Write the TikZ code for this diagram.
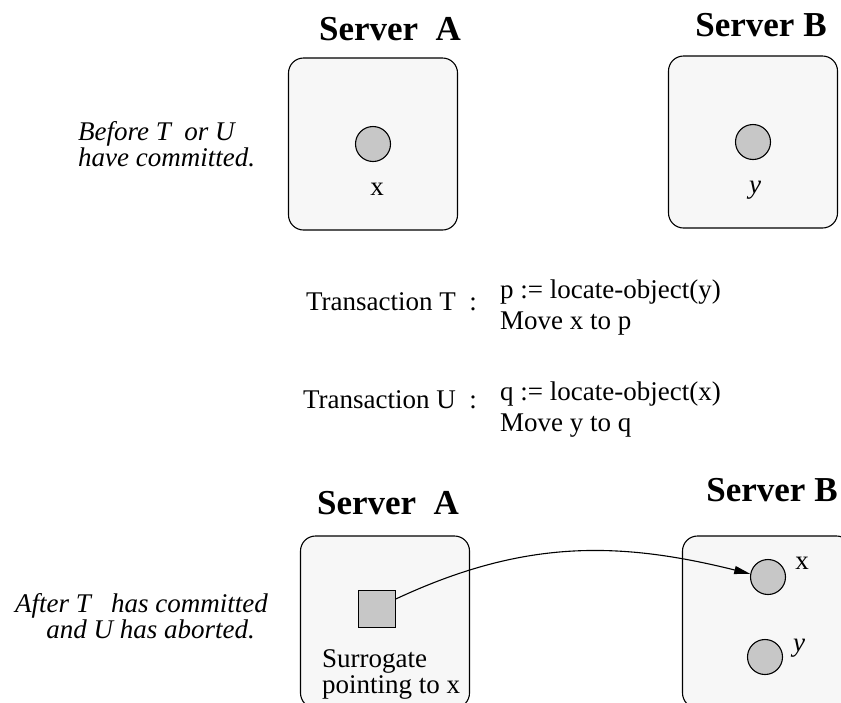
\documentclass[tikz,border=0pt]{standalone}
\usepackage{fontspec}
\setmainfont{Liberation Serif}
\usetikzlibrary{positioning,arrows.meta}
\definecolor{boxFill}{gray}{0.97}
\definecolor{objFill}{gray}{0.78}

\begin{document}
\begin{tikzpicture}[
	x=1pt, y=1pt,
	node distance = 0pt,
	server/.style={draw, rounded corners=15pt, minimum width=169pt, minimum height=172pt,
		line width=1.1pt, fill=boxFill},
	obj/.style={draw, circle, minimum size=35pt, inner sep=0pt, line width=1.1pt, fill=objFill},
	surr/.style={draw, minimum size=37pt, inner sep=0pt, line width=1.1pt, fill=objFill},
	title/.style={font=\fontsize{35}{38}\selectfont\bfseries, inner sep=0pt},
	txt/.style={font=\fontsize{27}{31}\selectfont, inner sep=0pt},
	note/.style={font=\fontsize{27}{26}\selectfont\itshape, inner sep=0pt},
	]
	\useasboundingbox (0,0) rectangle (841,-702);
	\clip (0,0) rectangle (841,-702);
	
	% before
	\node [server] (boxA) at (373,-144) {};
	\node [server] (boxB) at (753,-142) {};
	\node [title, anchor=base] (srvA) at (390,-40) {Server\ \ A};
	\node [title, anchor=base] (srvB) at (761,-36) {Server B};
	\node [obj] (objX) at (boxA.center) {};
	\node [obj] (objY) at (boxB.center) {};
	\node [txt, anchor=base] (lblX) at (377,-195) {x};
	\node [txt, anchor=base] (lblY) at (755,-193) {\itshape y};
	\node [note, anchor=base west] (before1) at (78,-140) {Before T\ \ or U};
	\node [note, anchor=base west] (before2) at (78,-166) {have committed.};
	
	% transactions
	\node [txt, anchor=base east] (trT) at (477,-310) {Transaction T\ \ :};
	\node [txt, anchor=base west] (opT1) at (500,-298) {p := locate-object(y)};
	\node [txt, anchor=base west] (opT2) at (500,-329) {Move x to p};
	\node [txt, anchor=base east] (trU) at (477,-408) {Transaction U\ \ :};
	\node [txt, anchor=base west] (opU1) at (500,-400) {q := locate-object(x)};
	\node [txt, anchor=base west] (opU2) at (500,-431) {Move y to q};
	
	% after
	\node [server] (boxA2) at (385,-622) {};
	\node [server] (boxB2) at (767,-622) {};
	\node [title, anchor=base] (srvA2) at (388,-514) {Server\ \ A};
	\node [title, anchor=base] (srvB2) at (772,-501) {Server B};
	\node [surr] (surr) at (377,-609) {};
	\node [txt, anchor=base west] (lblS1) at (322,-667) {Surrogate};
	\node [txt, anchor=base west] (lblS2) at (322,-693) {pointing to x};
	\node [obj] (objX2) at (768,-577) {};
	\node [obj] (objY2) at (765,-657) {};
	\node [txt, anchor=base] (lblX2) at (802,-569) {x};
	\node [txt, anchor=base] (lblY2) at (799,-651) {\itshape y};
	\node [note, anchor=base east] (after1) at (268,-612) {After T\ \ \ has committed};
	\node [note, anchor=base east] (after2) at (255,-638) {and U has aborted.};
	
	\draw [-{Triangle[length=16pt,width=8pt]}, line width=1.1pt] (surr.28) to[out=25, in=166] (objX2.170);
\end{tikzpicture}
\end{document}
